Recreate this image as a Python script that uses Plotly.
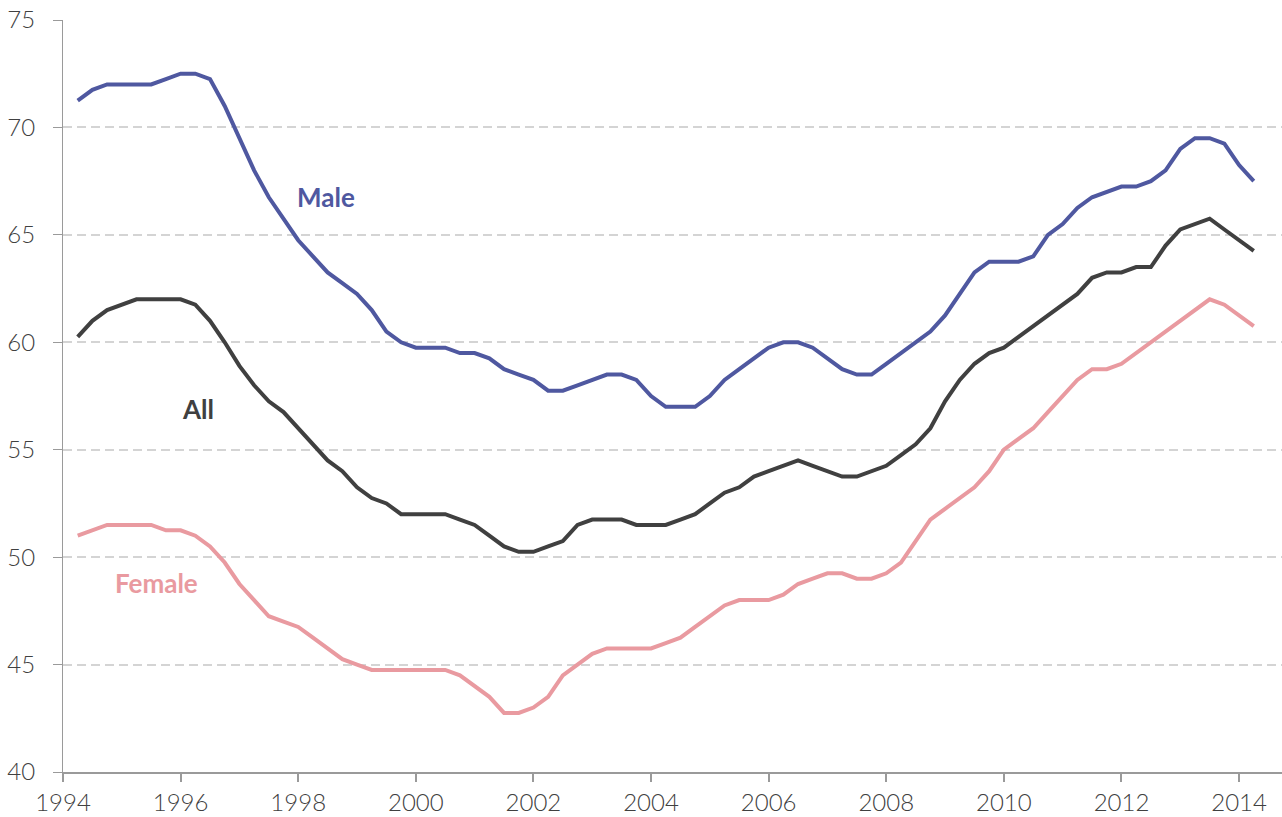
import plotly.graph_objects as go

quarters = [1994.25 + 0.25 * k for k in range(81)]

male = [71.25, 71.75, 72.0, 72.0, 72.0, 72.0, 72.25, 72.5, 72.5, 72.25,
        71.0, 69.5, 68.0, 66.75, 65.75, 64.75, 64.0, 63.25, 62.75, 62.25,
        61.5, 60.5, 60.0, 59.75, 59.75, 59.75, 59.5, 59.5, 59.25, 58.75,
        58.5, 58.25, 57.75, 57.75, 58.0, 58.25, 58.5, 58.5, 58.25, 57.5,
        57.0, 57.0, 57.0, 57.5, 58.25, 58.75, 59.25, 59.75, 60.0, 60.0,
        59.75, 59.25, 58.75, 58.5, 58.5, 59.0, 59.5, 60.0, 60.5, 61.25,
        62.25, 63.25, 63.75, 63.75, 63.75, 64.0, 65.0, 65.5, 66.25, 66.75,
        67.0, 67.25, 67.25, 67.5, 68.0, 69.0, 69.5, 69.5, 69.25, 68.25,
        67.5]

all_ = [60.25, 61.0, 61.5, 61.75, 62.0, 62.0, 62.0, 62.0, 61.75, 61.0,
        60.0, 58.9, 58.0, 57.25, 56.75, 56.0, 55.25, 54.5, 54.0, 53.25,
        52.75, 52.5, 52.0, 52.0, 52.0, 52.0, 51.75, 51.5, 51.0, 50.5,
        50.25, 50.25, 50.5, 50.75, 51.5, 51.75, 51.75, 51.75, 51.5, 51.5,
        51.5, 51.75, 52.0, 52.5, 53.0, 53.25, 53.75, 54.0, 54.25, 54.5,
        54.25, 54.0, 53.75, 53.75, 54.0, 54.25, 54.75, 55.25, 56.0, 57.25,
        58.25, 59.0, 59.5, 59.75, 60.25, 60.75, 61.25, 61.75, 62.25, 63.0,
        63.25, 63.25, 63.5, 63.5, 64.5, 65.25, 65.5, 65.75, 65.25, 64.75,
        64.25]

female = [51.0, 51.25, 51.5, 51.5, 51.5, 51.5, 51.25, 51.25, 51.0, 50.5,
          49.75, 48.75, 48.0, 47.25, 47.0, 46.75, 46.25, 45.75, 45.25, 45.0,
          44.75, 44.75, 44.75, 44.75, 44.75, 44.75, 44.5, 44.0, 43.5, 42.75,
          42.75, 43.0, 43.5, 44.5, 45.0, 45.5, 45.75, 45.75, 45.75, 45.75,
          46.0, 46.25, 46.75, 47.25, 47.75, 48.0, 48.0, 48.0, 48.25, 48.75,
          49.0, 49.25, 49.25, 49.0, 49.0, 49.25, 49.75, 50.75, 51.75, 52.25,
          52.75, 53.25, 54.0, 55.0, 55.5, 56.0, 56.75, 57.5, 58.25, 58.75,
          58.75, 59.0, 59.5, 60.0, 60.5, 61.0, 61.5, 62.0, 61.75, 61.25,
          60.75]

x_ticks = [1994, 1996, 1998, 2000, 2002, 2004, 2006, 2008, 2010, 2012, 2014]
y_ticks = [40, 45, 50, 55, 60, 65, 70, 75]

series_names = ["Male", "All", "Female"]
series_colors = ["#4f58a0", "#404040", "#e99aa0"]
series_values = [male, all_, female]
label_pos = [(1998.47, 66.75), (1996.29, 56.88), (1995.59, 48.8)]

fig = go.Figure()
for name, col, vals in zip(series_names, series_colors, series_values):
    fig.add_trace(go.Scatter(x=quarters, y=vals, mode="lines", name=name,
                             line=dict(color=col, width=4, shape="linear"),
                             showlegend=False))

for name, col, (lx, ly) in zip(series_names, series_colors, label_pos):
    fig.add_annotation(x=lx, y=ly, text="<b>%s</b>" % name, showarrow=False,
                       font=dict(family="Lato", size=26, color=col),
                       xanchor="center", yanchor="middle")

tick_font = dict(family="Lato", size=24, color="#404040", weight=300)

fig.update_layout(
    width=1282, height=817,
    margin=dict(l=63, r=0, t=20, b=45),
    paper_bgcolor="white", plot_bgcolor="white",
    font=dict(family="Lato", size=24, color="#404040"),
)
fig.update_xaxes(range=[1994, 2014.73], tickvals=x_ticks,
                 ticktext=[str(v) for v in x_ticks],
                 showgrid=False, zeroline=False,
                 showline=True, linecolor="#9a9a9a", linewidth=2,
                 ticks="outside", ticklen=8, tickcolor="#9a9a9a", tickwidth=1.5,
                 tickfont=tick_font)
fig.update_yaxes(range=[40, 75], tickvals=y_ticks,
                 ticktext=[str(v) for v in y_ticks],
                 showgrid=True, gridcolor="#d4d4d4", gridwidth=1.5, griddash="9px,5px",
                 zeroline=False,
                 showline=True, linecolor="#9a9a9a", linewidth=1,
                 ticks="outside", ticklen=9, tickcolor="#9a9a9a", tickwidth=1,
                 ticklabelstandoff=13,
                 tickfont=tick_font)

fig.write_html("out.html", config={"displayModeBar": False},
               post_script="document.body.style.margin='0';document.body.style.overflow='hidden';")
